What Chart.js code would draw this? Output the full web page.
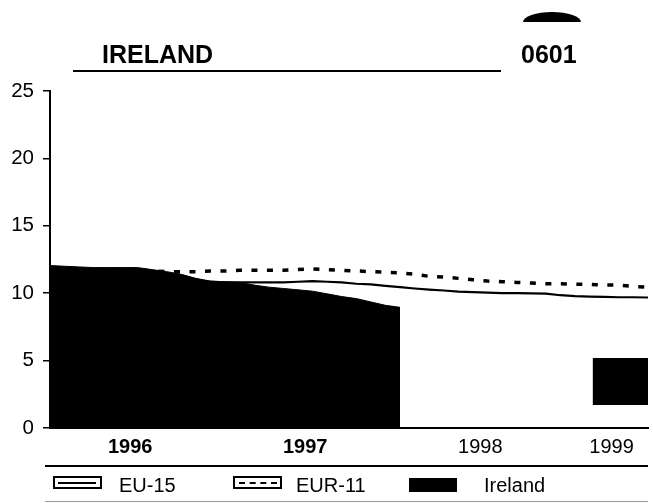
<!DOCTYPE html>
<html>
<head>
<meta charset="utf-8">
<script src="https://cdn.jsdelivr.net/npm/chart.js@4.4.0/dist/chart.umd.min.js"></script>
<style>
body{margin:0;background:#fff;font-family:"Liberation Sans",Arial,Helvetica,sans-serif;}
#wrap{position:relative;width:653px;height:503px;overflow:hidden;}
#c{position:absolute;left:0;top:0;}
.t{position:absolute;font-weight:bold;font-size:25px;line-height:25px;color:#000;white-space:nowrap;}
.rule{position:absolute;height:0;}
.lg{position:absolute;font-size:20px;line-height:20px;color:#000;white-space:nowrap;}
.box{position:absolute;box-sizing:border-box;}
</style>
</head>
<body>
<div id="wrap">
<canvas id="c" width="653" height="503"></canvas>

<div class="box" style="left:523px;top:12px;width:58px;height:10px;background:#000;border-radius:50% 50% 0 0/100% 100% 0 0;"></div>
<div class="t" style="left:102px;top:42px;">IRELAND</div>
<div class="t" style="left:521px;top:42px;">0601</div>
<div class="rule" style="left:73px;top:70px;width:428px;border-top:2px solid #000;"></div>

<div class="rule" style="left:45px;top:465px;width:603px;border-top:2px solid #000;"></div>
<div class="rule" style="left:45px;top:501px;width:603px;border-top:1px solid #999;"></div>

<div class="box" style="left:53px;top:476px;width:49px;height:13px;border:2px solid #000;"></div>
<div class="box" style="left:58px;top:482px;width:38px;height:2px;background:#000;"></div>
<div class="lg" style="left:119px;top:475px;">EU-15</div>

<div class="box" style="left:233px;top:476px;width:49px;height:13px;border:2px solid #000;"></div>
<div class="box" style="left:239px;top:482px;width:38px;height:0;border-top:2px dashed #000;"></div>
<div class="lg" style="left:296px;top:475px;">EUR-11</div>

<div class="box" style="left:409px;top:478px;width:48px;height:14px;background:#000;"></div>
<div class="lg" style="left:484px;top:475px;">Ireland</div>
</div>

<script>
// monthly, Jan 1996 .. Jun 1999 (index 0..41)
const ireland = [12.05,12.0,11.95,11.9,11.9,11.9,11.9,11.75,11.6,11.4,11.1,10.9,
  10.85,10.8,10.6,10.45,10.35,10.25,10.15,9.95,9.75,9.6,9.35,9.1,
  8.95]
const eu15 = [10.9,10.9,10.9,10.9,10.9,10.9,10.9,10.9,10.9,10.9,10.9,10.85,
  10.8,10.8,10.8,10.8,10.8,10.85,10.9,10.85,10.8,10.7,10.65,10.55,
  10.45,10.35,10.27,10.2,10.12,10.08,10.05,10.0,10.0,9.98,9.97,9.85,
  9.78,9.75,9.73,9.7,9.7,9.68]
const eur11 = [11.7,11.7,11.7,11.7,11.7,11.7,11.7,11.65,11.6,11.6,11.6,11.65,
  11.65,11.7,11.7,11.7,11.7,11.75,11.8,11.75,11.7,11.65,11.6,11.55,
  11.5,11.4,11.25,11.2,11.1,11.0,10.9,10.85,10.8,10.75,10.7,10.7,
  10.67,10.65,10.6,10.6,10.5,10.45]

// dark smudge on the scan, lower right
const smudgeX = [37.2,41]
const smudgeTop = [5.2,5.2]
const smudgeBottom = [1.7,1.7]

const yearPos = [5.5,17.5,29.5,38.5]
const yearLabels = ["1996","1997","1998","1999"]
const yearBold = [true,true,false,false]

const FONT = '"Liberation Sans", Arial, Helvetica, sans-serif'

function pts(arr){ return arr.map((v,i)=>({x:i,y:v})) }
function xy(xs,ys){ return xs.map((v,i)=>({x:v,y:ys[i]})) }

new Chart(document.getElementById("c"),{
type:"line",
data:{
datasets:[
{label:"Ireland",data:pts(ireland),borderColor:"#000",borderWidth:1,backgroundColor:"#000",fill:"origin",pointRadius:0,tension:0},
{label:"EU-15",data:pts(eu15),borderColor:"#000",borderWidth:2.2,fill:false,pointRadius:0,tension:0},
{label:"EUR-11",data:pts(eur11),borderColor:"#000",borderWidth:3.5,borderDash:[6,9.5],fill:false,pointRadius:0,tension:0},
{label:"s1",data:xy(smudgeX,smudgeTop),borderWidth:0,borderColor:"rgba(0,0,0,0)",fill:false,pointRadius:0},
{label:"s2",data:xy(smudgeX,smudgeBottom),borderWidth:0,borderColor:"rgba(0,0,0,0)",backgroundColor:"#000",fill:"-1",pointRadius:0}
]
},
options:{
responsive:false,
animation:false,
devicePixelRatio:1,
layout:{padding:{left:0,right:5,top:91,bottom:45}},
plugins:{legend:{display:false},tooltip:{enabled:false}},
scales:{
x:{
type:"linear",min:0,max:41,
grid:{display:false,drawTicks:false},
border:{display:true,color:"#000",width:2},
afterBuildTicks:function(s){ s.ticks = yearPos.map(v=>({value:v})) },
afterFit:function(s){ s.height = 30 },
ticks:{
autoSkip:false,maxRotation:0,padding:7,color:"#000",
callback:function(v,i){ return yearLabels[i] },
font:function(ctx){ return {family:FONT,size:20,weight:yearBold[ctx.index]?"bold":"normal"} }
}
},
y:{
min:0,max:25,
grid:{drawOnChartArea:false,drawTicks:true,tickLength:7,color:"#000",lineWidth:1.5},
border:{display:true,color:"#000",width:2},
afterFit:function(s){ s.width = 50 },
ticks:{stepSize:5,padding:9,color:"#000",font:{family:FONT,size:20.5}}
}
}
}
})
</script>
</body>
</html>
